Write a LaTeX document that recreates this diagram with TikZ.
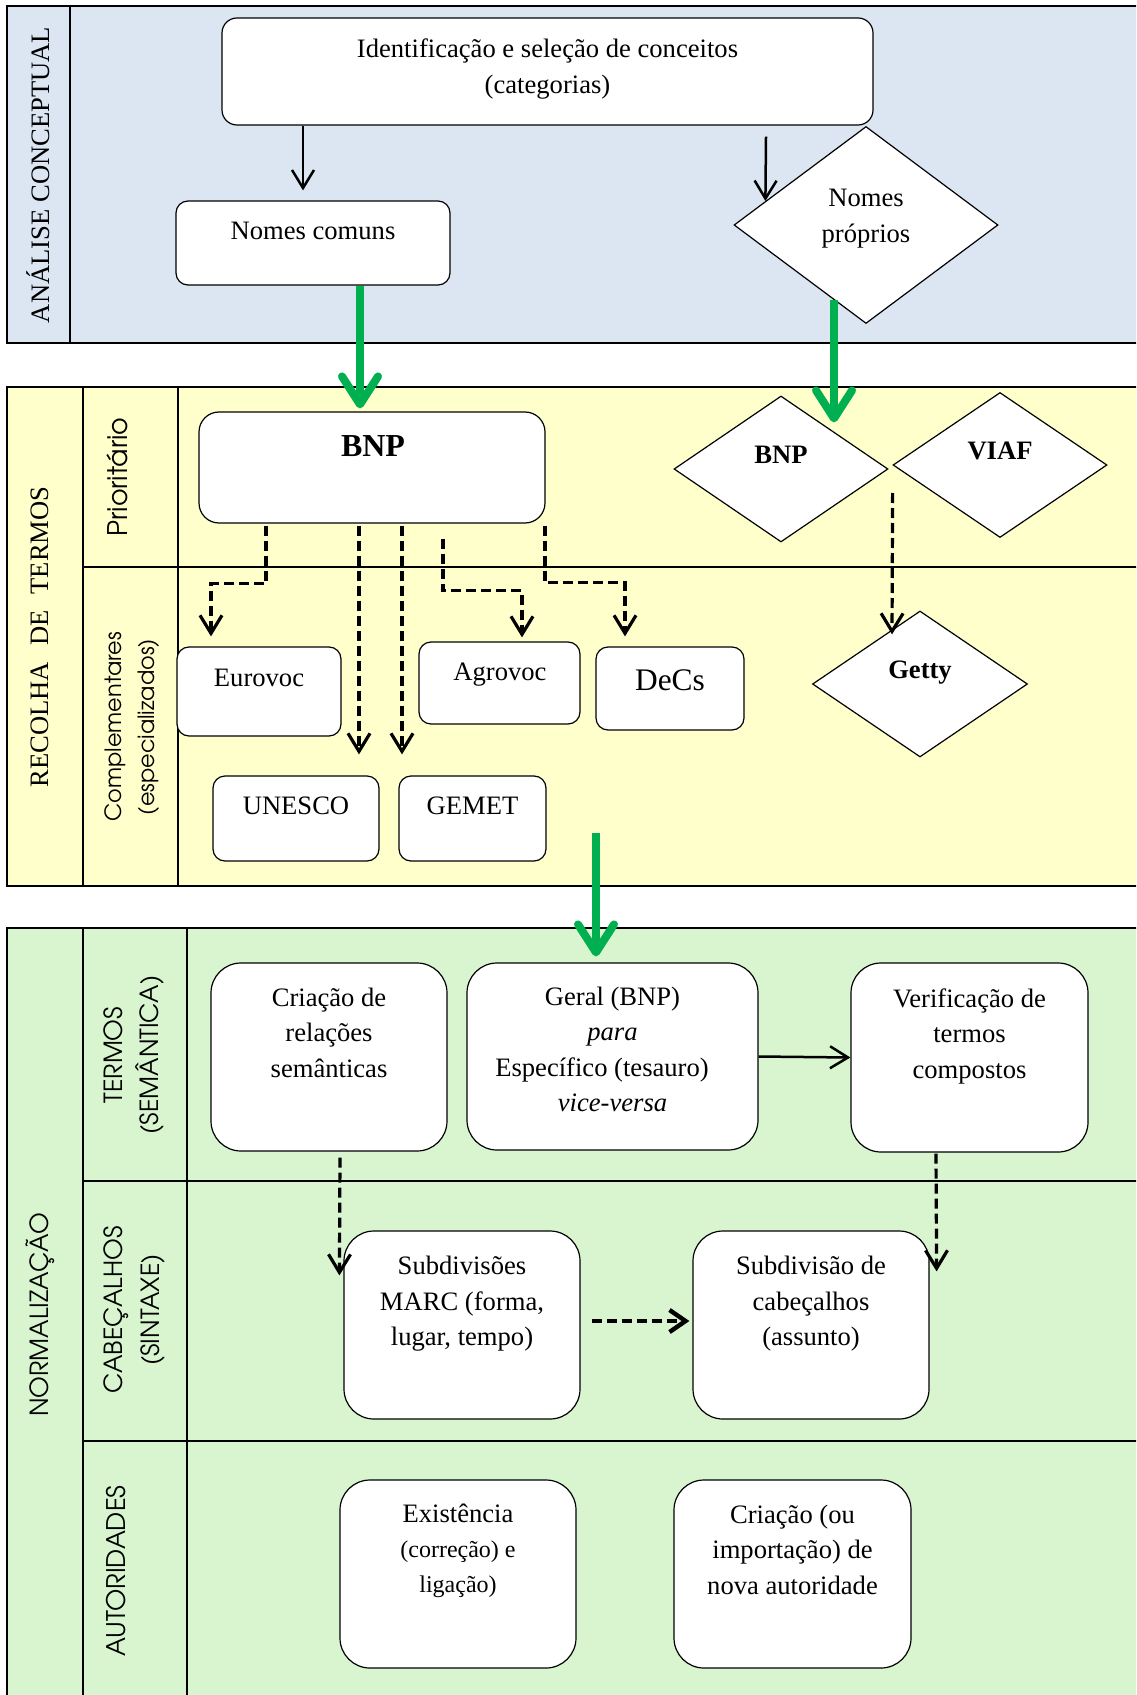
\documentclass[tikz,border=0pt]{standalone}
\usepackage{fontspec}
\setmainfont{Liberation Serif}
\newfontfamily\gothic{TeX Gyre Adventor}
\usetikzlibrary{arrows.meta,shapes.geometric,calc}
\definecolor{bandblue}{RGB}{220,230,242}
\definecolor{bandyellow}{RGB}{255,255,204}
\definecolor{bandgreen}{RGB}{216,245,208}
\definecolor{arrowgreen}{RGB}{0,176,80}
\tikzset{
  band/.style={draw=black, line width=1pt},
  sz/.style 2 args={minimum width=#1*0.5pt, minimum height=#2*0.5pt},
  box/.style={draw=black, line width=0.6pt, fill=white, rounded corners=#1, inner sep=0pt},
  box/.default=6pt,
  dia/.style={draw=black, line width=0.6pt, fill=white, diamond, inner sep=0pt},
  txt/.style={align=center, inner sep=0pt, font=\fontsize{13.3}{17.75}\selectfont},
  lab/.style={rotate=90, align=center, inner sep=0pt},
  blk/.style={line width=1.25pt, -{Straight Barb[length=9pt,width=11pt]}},
  dsh/.style={line width=1.6pt, dash pattern=on 5pt off 2.5pt, -{Straight Barb[length=9pt,width=11pt]}},
  dshthick/.style={line width=2.2pt, dash pattern=on 5pt off 2.5pt, -{Straight Barb[length=8pt,width=11pt]}},
  grn/.style={draw=arrowgreen, line width=4pt, -{Straight Barb[length=14pt,width=18pt,round]}},
}
\begin{document}
\begin{tikzpicture}[x=0.5pt,y=-0.5pt]
\useasboundingbox (0,0) rectangle (1136,1695);
\clip (0,0) rectangle (1136,1695);
\fill[white] (0,0) rectangle (1136,1695);

% ---------- bands ----------
\filldraw[band, fill=bandblue] (7,6) rectangle (1145,343);
\draw[band] (70,6) -- (70,343);

\filldraw[band, fill=bandyellow] (7,387) rectangle (1145,886);
\draw[band] (83,387) -- (83,886);
\draw[band] (178,387) -- (178,886);
\draw[band] (83,567) -- (1145,567);

\filldraw[band, fill=bandgreen] (7,928) rectangle (1145,1705);
\draw[band] (83,928) -- (83,1705);
\draw[band] (187,928) -- (187,1705);
\draw[band] (83,1181) -- (1145,1181);
\draw[band] (83,1441) -- (1145,1441);

% ---------- band labels ----------
\node[lab, font=\fontsize{13.3}{16}\selectfont] (labA) at (38,175) {ANÁLISE CONCEPTUAL};
\node[lab, font=\fontsize{13.3}{16}\selectfont] (labR) at (40,637) {RECOLHA\hspace{0.6em}DE\hspace{0.6em}TERMOS};
\node[lab, font=\gothic\fontsize{12.5}{16}\selectfont] (labN) at (40,1315) {NORMALIZAÇÃO};
\node[lab, font=\gothic\fontsize{13.5}{16}\selectfont] (labP) at (117,477) {Prioritário};
\node[lab, font=\gothic\fontsize{11.2}{16.5}\selectfont] (labC) at (132.5,727) {Complementares\\(especializados)};
\node[lab, font=\gothic\fontsize{12.5}{18}\selectfont] (labT) at (134,1055) {TERMOS\\(SEMÂNTICA)};
\node[lab, font=\gothic\fontsize{12.5}{18.5}\selectfont] (labCb) at (134,1310) {CABEÇALHOS\\(SINTAXE)};
\node[lab, font=\gothic\fontsize{12.8}{16}\selectfont] (labAu) at (116,1571) {AUTORIDADES};

% ---------- section 1 ----------
\node[box=7.5pt, sz={651}{107}] (top) at (547.5,71.5) {};
\node[txt] (toptxt) at (547.5,69) {Identificação e seleção de conceitos\\(categorias)};
\node[box=6pt, sz={274}{84}] (nc) at (313,243) {};
\node[txt] (nctxt) at (313,231) {Nomes comuns};
\node[dia, sz={264}{197}] (np) at (866,225) {};
\node[txt] (nptxt) at (866,218.5) {Nomes\\próprios};

% ---------- section 2 ----------
\node[box=10pt, sz={346}{111}] (bnp) at (372,467.5) {};
\node[txt, font=\fontsize{16}{18}\selectfont\bfseries] (bnptxt) at (373,446) {BNP};
\node[dia, sz={214}{146}] (bnp2) at (781,469) {};
\node[txt, font=\fontsize{13.3}{16}\selectfont\bfseries] (bnp2txt) at (781,455) {BNP};
\node[dia, sz={214}{145}] (viaf) at (1000,465) {};
\node[txt, font=\fontsize{13.3}{16}\selectfont\bfseries] (viaftxt) at (1000,451) {VIAF};
\node[box=6pt, sz={164}{89}] (euro) at (259,691.5) {};
\node[txt] (eurotxt) at (259,678) {Eurovoc};
\node[box=6pt, sz={161}{82}] (agro) at (499.5,683) {};
\node[txt] (agrotxt) at (500,675) {Agrovoc};
\node[box=6pt, sz={148}{83}] (decs) at (670,688.5) {};
\node[txt, font=\fontsize{15.7}{18}\selectfont] (decstxt) at (670,680) {DeCs};
\node[dia, sz={215}{146}] (getty) at (920,684) {};
\node[txt, font=\fontsize{13.3}{16}\selectfont\bfseries] (gettytxt) at (920,673) {Getty};
\node[box=6pt, sz={166}{85}] (unesco) at (296,818.5) {};
\node[txt] (unescotxt) at (296,806) {UNESCO};
\node[box=6pt, sz={147}{85}] (gemet) at (472.5,818.5) {};
\node[txt] (gemettxt) at (472.5,806) {GEMET};

% ---------- section 3 ----------
\node[box=15pt, sz={236}{188}] (cri) at (329,1057) {};
\node[txt] (critxt) at (329,1032.5) {Criação de\\relações\\semânticas};
\node[box=15pt, sz={291}{187}] (geral) at (612.5,1056.5) {};
\node[txt] (geraltxt) at (612.5,1049.5) {Geral (BNP)\\\textit{para}\\Específico (tesauro)\rule{10.5pt}{0pt}\\\textit{vice-versa}};
\node[box=15pt, sz={237}{189}] (verif) at (969.5,1057.5) {};
\node[txt] (veriftxt) at (969.5,1036) {Verificação de\\termos\\compostos};
\node[box=15pt, sz={236}{188}] (subd1) at (462,1325) {};
\node[txt] (subd1txt) at (462,1304) {Subdivisões\\MARC (forma,\\lugar, tempo)};
\node[box=15pt, sz={236}{188}] (subd2) at (811,1325) {};
\node[txt] (subd2txt) at (811,1304) {Subdivisão de\\cabeçalhos\\(assunto)};
\node[box=15pt, sz={236}{188}] (exist) at (458,1574) {};
\node[txt] (existtxt) at (458,1551) {Existência\\[-0.5pt]{\fontsize{12}{16}\selectfont (correção) e}\\{\fontsize{12}{16}\selectfont ligação)}};
\node[box=15pt, sz={237}{188}] (nova) at (792.5,1574) {};
\node[txt] (novatxt) at (792.5,1549.5) {Criação (ou\\importação) de\\nova autoridade};

% ---------- connectors ----------
\draw[blk] ($(top.south)+(-244.5,0)$) -- ($(nc.north)+(-10,-10)$);
\draw[blk] ($(top.south)+(218.5,11)$) -- ($(np.west)+(32,-24)$);

\draw[dsh] ($(bnp.south)+(-106,2)$) -- ++(0,58) -| ($(euro.north)+(-48,-10)$);
\draw[dsh] ($(bnp.south)+(-13,2)$) -- ($(unesco.north)+(63,-21)$);
\draw[dsh] ($(bnp.south)+(30,2)$) -- ($(gemet.north)+(-70.5,-21)$);
\draw[dsh] ($(bnp.south)+(71,15)$) -- ++(0,52) -| ($(agro.north)+(22.5,-4)$);
\draw[dsh] ($(bnp.south)+(173,2)$) -- ++(0,57) -| ($(decs.north)+(-45,-10)$);
\draw[dsh] ($(bnp2.east)+(4,24)$) -- ($(getty.north)+(-28,24)$);

\draw[blk] (geral.east) -- (verif.west);
\draw[dsh] ($(cri.south)+(11,6)$) -- ($(subd1.north west)+(-4,45)$);
\draw[dsh] ($(verif.south)+(-33.5,1)$) -- ($(subd2.north east)+(7,41)$);
\draw[dshthick] ($(subd1.east)+(11,-4)$) -- ($(subd2.west)+(-3,-4)$);

\coordinate (g3) at (596,833);
\draw[grn] ($(nc.south)+(47,0)$) -- ($(bnp.north)+(-12,-3)$);
\draw[grn] ($(np.south)+(-32,-24)$) -- ($(bnp2.north)+(53,27)$);
\draw[grn] (g3) -- ($(geral.north)+(-16.5,-6)$);
\end{tikzpicture}
\end{document}
